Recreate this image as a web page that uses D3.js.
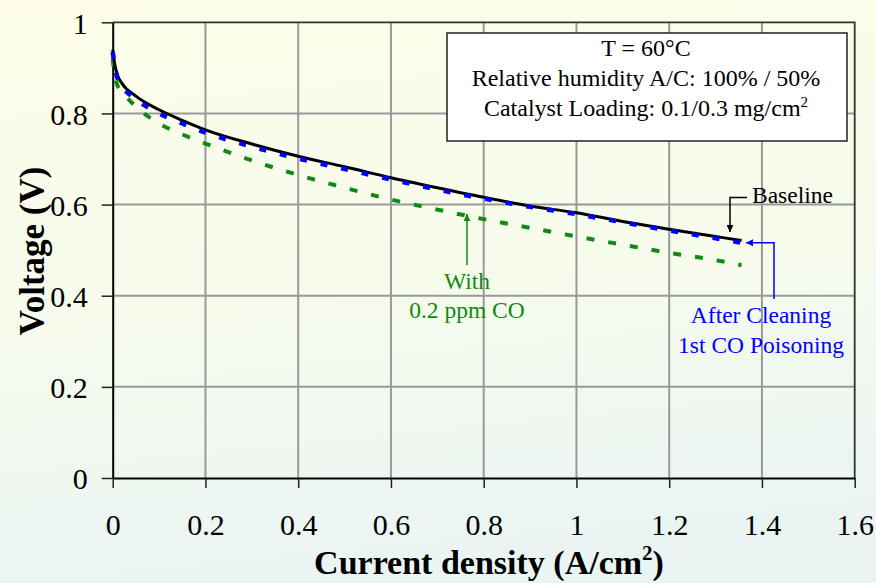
<!DOCTYPE html>
<html>
<head>
<meta charset="utf-8">
<script src="https://cdn.jsdelivr.net/npm/d3@7"></script>
<style>
  html, body { margin: 0; padding: 0; }
  body { width: 876px; height: 583px; overflow: hidden; }
  svg text { font-family: "Liberation Serif", "Times New Roman", serif; }
</style>
</head>
<body>
<svg id="chart" width="876" height="583"></svg>
<script>
// ---- data ----
const currentDensity = [0, 0.005, 0.01, 0.02, 0.05, 0.1, 0.15, 0.2, 0.3, 0.4, 0.5, 0.6, 0.7, 0.8, 0.9, 1.0, 1.1, 1.2, 1.3, 1.356];
const baselineV      = [0.94, 0.905, 0.885, 0.866, 0.838, 0.808, 0.785, 0.764, 0.733, 0.706, 0.683, 0.659, 0.637, 0.616, 0.597, 0.582, 0.563, 0.546, 0.530, 0.521];
const afterCleaningV = [0.935, 0.90, 0.878, 0.860, 0.831, 0.800, 0.778, 0.758, 0.727, 0.701, 0.678, 0.655, 0.633, 0.613, 0.595, 0.579, 0.561, 0.543, 0.526, 0.516];
const withCOV        = [0.92, 0.88, 0.862, 0.848, 0.815, 0.778, 0.754, 0.734, 0.697, 0.665, 0.637, 0.611, 0.589, 0.568, 0.549, 0.530, 0.512, 0.494, 0.478, 0.467];
const xTicks = [0, 0.2, 0.4, 0.6, 0.8, 1, 1.2, 1.4, 1.6];
const yTicks = [0, 0.2, 0.4, 0.6, 0.8, 1];
const infoLines = ["T = 60°C", "Relative humidity A/C: 100% / 50%", "Catalyst Loading: 0.1/0.3 mg/cm"];

const svg = d3.select("#chart");
const W = 876, H = 583;
const m = { left: 112.7, right: 854.7, top: 22.3, bottom: 478 };

// background gradient
const defs = svg.append("defs");
const grad = defs.append("linearGradient").attr("id", "bg").attr("x1", 0).attr("y1", 0).attr("x2", 0.15).attr("y2", 1);
grad.append("stop").attr("offset", "0%").attr("stop-color", "#fdfde8");
grad.append("stop").attr("offset", "55%").attr("stop-color", "#f6fbec");
grad.append("stop").attr("offset", "100%").attr("stop-color", "#eaf5f3");
svg.append("rect").attr("width", W).attr("height", H).attr("fill", "url(#bg)");

function marker(id, color) {
  defs.append("marker").attr("id", id).attr("viewBox", "0 0 10 10")
    .attr("refX", 10).attr("refY", 5).attr("markerWidth", 9).attr("markerHeight", 7)
    .attr("markerUnits", "userSpaceOnUse").attr("orient", "auto")
    .append("path").attr("d", "M0,0 L10,5 L0,10 Z").attr("fill", color);
}
marker("arBlack", "#000");
marker("arBlue", "#0000ff");
marker("arGreen", "#108a10");

const x = d3.scaleLinear().domain([0, 1.6]).range([m.left, m.right]);
const y = d3.scaleLinear().domain([0, 1]).range([m.bottom, m.top]);

// grid
const grid = svg.append("g");
grid.selectAll("line.v").data(xTicks.filter(d => d > 0 && d < 1.6)).join("line")
  .attr("x1", d => x(d)).attr("x2", d => x(d)).attr("y1", m.top).attr("y2", m.bottom)
  .attr("stroke", "#999").attr("stroke-width", 2);
grid.selectAll("line.h").data(yTicks.filter(d => d > 0 && d < 1)).join("line")
  .attr("x1", m.left).attr("x2", m.right).attr("y1", d => y(d)).attr("y2", d => y(d))
  .attr("stroke", "#999").attr("stroke-width", 2);

// frame top/right
svg.append("path").attr("d", `M${m.left},${m.top} H${m.right} V${m.bottom}`)
  .attr("fill", "none").attr("stroke", "#333").attr("stroke-width", 1.8);

// axes
const xAxis = d3.axisBottom(x).tickValues(xTicks).tickSize(10).tickSizeOuter(0).tickFormat(d3.format("~g"));
const gx = svg.append("g").attr("transform", `translate(0,${m.bottom})`).call(xAxis);
gx.select(".domain").attr("stroke", "#000").attr("stroke-width", 2);
gx.selectAll(".tick line").attr("stroke", "#222").attr("stroke-width", 1.5);
gx.selectAll(".tick text").attr("font-size", 30).attr("fill", "#000")
  .attr("font-family", "Liberation Serif, Times New Roman, serif").attr("y", 57).attr("dy", 0);

const yAxis = d3.axisLeft(y).tickValues(yTicks).tickSize(11).tickSizeOuter(0).tickFormat(d3.format("~g"));
const gy = svg.append("g").attr("transform", `translate(${m.left},0)`).call(yAxis);
gy.select(".domain").attr("stroke", "#000").attr("stroke-width", 2);
gy.selectAll(".tick line").attr("stroke", "#222").attr("stroke-width", 1.5);
gy.selectAll(".tick text").attr("font-size", 30).attr("fill", "#000")
  .attr("font-family", "Liberation Serif, Times New Roman, serif").attr("x", -25).attr("dy", "0.36em");

// series
const line = d3.line().x(d => x(d[0])).y(d => y(d[1])).curve(d3.curveMonotoneX);
const zip = (a, b) => a.map((v, i) => [v, b[i]]);
svg.append("path").datum(zip(currentDensity, withCOV)).attr("d", line)
  .attr("fill", "none").attr("stroke", "#118a11").attr("stroke-width", 4).attr("stroke-dasharray", "8,14");
svg.append("path").datum(zip(currentDensity, baselineV)).attr("d", line)
  .attr("fill", "none").attr("stroke", "#000").attr("stroke-width", 3);
svg.append("path").datum(zip(currentDensity, afterCleaningV)).attr("d", line)
  .attr("fill", "none").attr("stroke", "#0000ff").attr("stroke-width", 4.5).attr("stroke-dasharray", "7,14");

// info box
const box = svg.append("g");
box.append("rect").attr("x", 447).attr("y", 33).attr("width", 400).attr("height", 108)
  .attr("fill", "#fff").attr("stroke", "#222").attr("stroke-width", 1.5);
const bt = box.selectAll("text").data(infoLines).join("text")
  .attr("x", 646).attr("y", (d, i) => 56 + i * 29.8).attr("text-anchor", "middle")
  .attr("font-size", 24).attr("fill", "#000").text(d => d);
bt.filter((d, i) => i === 2).append("tspan").attr("dy", -9).attr("font-size", 15).text("2");

// annotations
const ann = svg.append("g");
ann.append("text").attr("x", 752).attr("y", 203).attr("font-size", 23.5).attr("fill", "#000").text("Baseline");
ann.append("path").attr("d", "M747,197.5 H730 V232").attr("fill", "none").attr("stroke", "#000")
  .attr("stroke-width", 1.5).attr("marker-end", "url(#arBlack)");

ann.append("text").attr("x", 761).attr("y", 323).attr("text-anchor", "middle").attr("font-size", 23.5)
  .attr("fill", "#0000ff").text("After Cleaning");
ann.append("text").attr("x", 761).attr("y", 353).attr("text-anchor", "middle").attr("font-size", 23.5)
  .attr("fill", "#0000ff").text("1st CO Poisoning");
ann.append("path").attr("d", "M774,299 V242.7 H746").attr("fill", "none").attr("stroke", "#0000ff")
  .attr("stroke-width", 1.5).attr("marker-end", "url(#arBlue)");

ann.append("text").attr("x", 467).attr("y", 289).attr("text-anchor", "middle").attr("font-size", 23.5)
  .attr("fill", "#108a10").text("With");
ann.append("text").attr("x", 467).attr("y", 318).attr("text-anchor", "middle").attr("font-size", 23.5)
  .attr("fill", "#108a10").text("0.2 ppm CO");
ann.append("path").attr("d", "M467,265 V214").attr("fill", "none").attr("stroke", "#108a10")
  .attr("stroke-width", 1.5).attr("marker-end", "url(#arGreen)");

// axis titles
const xt = svg.append("text").attr("x", 489).attr("y", 574).attr("text-anchor", "middle")
  .attr("font-size", 34).attr("font-weight", "bold").attr("fill", "#000").text("Current density (A/cm");
xt.append("tspan").attr("dy", -14).attr("font-size", 21).text("2");
xt.append("tspan").attr("dy", 14).text(")");

svg.append("text").attr("transform", "translate(44,251) rotate(-90)").attr("text-anchor", "middle")
  .attr("font-size", 35).attr("font-weight", "bold").attr("fill", "#000").text("Voltage (V)");
</script>
</body>
</html>
